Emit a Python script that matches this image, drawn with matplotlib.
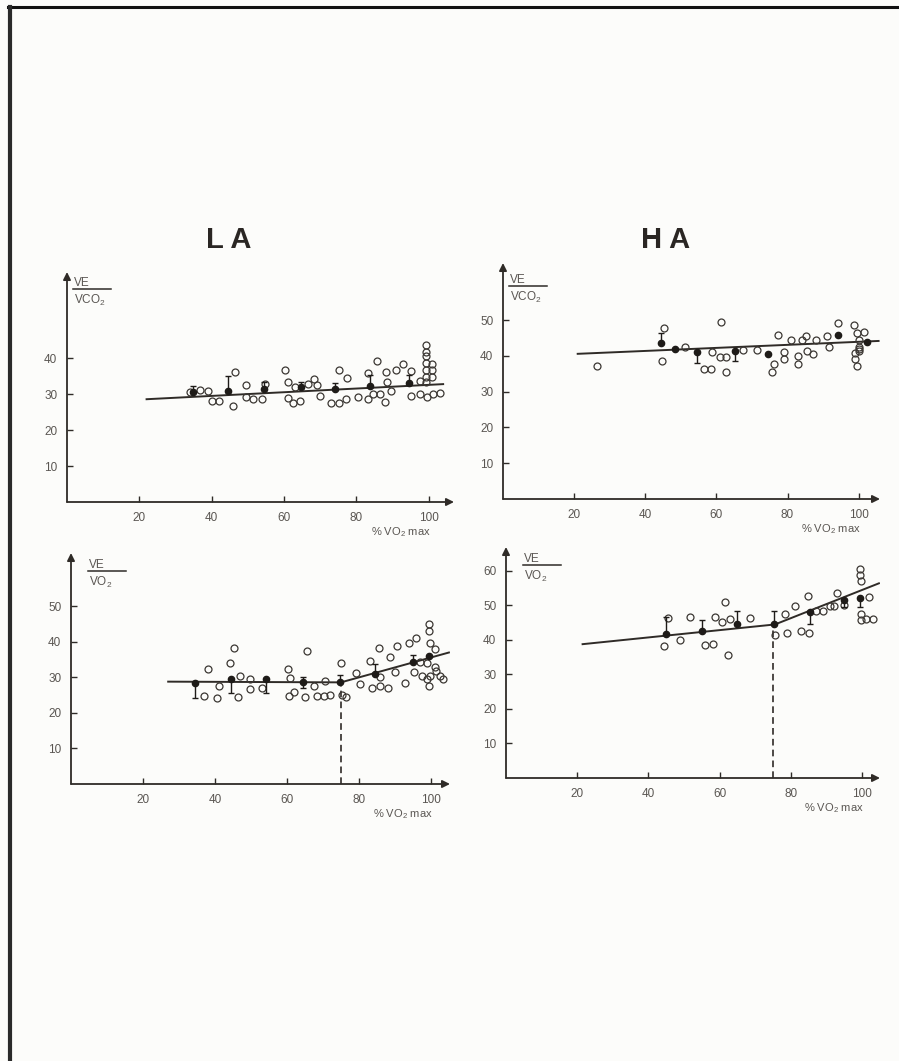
import matplotlib
matplotlib.use('Agg')
import numpy as np
import matplotlib.pyplot as plt
from matplotlib.lines import Line2D

plt.rcParams['font.family'] = ['Liberation Sans', 'DejaVu Sans']
plt.rcParams['mathtext.fontset'] = 'custom'
plt.rcParams['mathtext.rm'] = 'Liberation Sans'
plt.rcParams['mathtext.it'] = 'Liberation Sans'

# ---- data ----
# LA, VE/VCO2
la_co2_x = [34.0, 36.8, 39.1, 40.0, 42.1, 45.8, 46.4, 49.4, 49.4, 51.5, 53.8, 54.7,
            60.4, 61.2, 61.0, 62.5, 64.4, 63.0, 66.7, 68.3, 69.0, 69.9, 73.1, 75.2,
            77.1, 75.2, 77.5, 80.5, 83.3, 83.3, 84.7, 86.5, 87.9, 85.6, 88.1, 88.5,
            90.9, 89.7, 92.9, 95.2, 95.2, 97.5, 97.5, 99.4, 101.2, 103.1,
            99.2, 99.2, 99.2, 99.2, 99.2, 99.2, 99.2, 100.8, 101.0, 101.0]
la_co2_y = [30.5, 31.1, 30.9, 28.1, 28.1, 26.7, 36.1, 32.5, 29.1, 28.6, 28.6, 32.8,
            36.6, 33.3, 28.9, 27.5, 28.1, 31.9, 32.8, 34.2, 32.6, 29.5, 27.5, 27.6,
            28.6, 36.6, 34.5, 29.2, 35.8, 28.6, 30.0, 30.0, 27.9, 39.2, 36.1, 33.3,
            36.6, 30.9, 38.5, 36.4, 29.5, 33.6, 30.0, 29.2, 30.0, 30.2,
            43.7, 41.8, 40.6, 38.7, 36.8, 34.9, 33.3, 38.5, 36.6, 34.7]
la_co2_mx = [34.7, 44.6, 54.4, 64.6, 74.1, 83.9, 94.6]
la_co2_my = [30.5, 30.9, 31.4, 31.9, 31.4, 32.4, 33.0]
la_co2_lo = [0, 0, 0, 0, 0, 0, 0]
la_co2_hi = [1.9, 4.2, 2.0, 1.5, 1.6, 2.8, 2.2]
la_co2_fx = [22, 104]
la_co2_fy = [28.6, 32.8]

# HA, VE/VCO2
ha_co2_x = [26.5, 45.3, 44.6, 51.3, 58.8, 56.5, 58.6, 61.2, 60.9, 62.8, 62.8, 67.4,
            71.4, 77.3, 78.9, 78.9, 76.1, 75.7, 81.1, 82.9, 82.9, 84.0, 85.2, 85.5,
            87.1, 88.1, 91.1, 91.7, 94.2, 98.6, 99.5, 101.4, 100.0, 100.0, 100.0,
            99.0, 99.0, 99.5, 100.2]
ha_co2_y = [37.2, 47.9, 38.6, 42.6, 41.1, 36.3, 36.3, 49.4, 39.8, 39.8, 35.4, 41.7,
            41.7, 45.9, 41.1, 39.1, 37.7, 35.4, 44.4, 40.0, 37.7, 44.4, 45.7, 41.4,
            40.6, 44.6, 45.7, 42.6, 49.3, 48.8, 46.5, 46.7, 44.6, 42.6, 41.4,
            40.9, 39.1, 37.2, 42.0]
ha_co2_mx = [44.3, 48.3, 54.6, 65.2, 74.5, 94.2, 102.3]
ha_co2_my = [43.5, 41.9, 41.1, 41.4, 40.6, 46.0, 43.9]
ha_co2_lo = [0, 0, 3.0, 2.8, 0, 0, 0]
ha_co2_hi = [3.0, 0, 0, 0, 0, 0, 0]
ha_co2_fx = [21, 105.6]
ha_co2_fy = [40.6, 44.2]

# LA, VE/VO2
la_o2_x = [38.1, 36.9, 40.6, 41.0, 45.2, 44.3, 47.0, 46.3, 49.8, 49.8, 53.1,
           60.3, 60.9, 60.5, 61.9, 65.6, 65.1, 67.4, 68.3, 70.2, 72.0, 70.6,
           75.0, 75.3, 76.5, 79.3, 80.4, 83.1, 85.5, 85.8, 83.6, 85.9, 88.2,
           88.5, 90.1, 90.6, 93.8, 95.9, 92.9, 95.3, 97.0, 98.9, 99.8, 97.5,
           99.4, 99.6, 99.8, 101.2, 101.2, 101.5, 99.4, 98.9, 102.6, 103.3]
la_o2_y = [32.5, 24.9, 24.1, 27.7, 38.4, 34.0, 30.3, 24.4, 29.5, 26.7, 26.9,
           32.5, 29.7, 24.9, 25.8, 37.5, 24.4, 27.7, 24.7, 24.9, 25.0, 29.1,
           34.0, 25.0, 24.4, 31.2, 28.1, 34.7, 38.4, 30.0, 26.9, 27.5, 26.9,
           35.6, 31.6, 38.7, 39.6, 41.0, 28.4, 31.4, 34.2, 34.0, 30.5, 30.3,
           45.0, 43.1, 39.8, 37.9, 33.0, 31.9, 27.7, 29.5, 30.3, 29.5]
la_o2_mx = [34.5, 44.5, 54.2, 64.4, 74.8, 84.5, 95.0, 99.4]
la_o2_my = [28.4, 29.5, 29.5, 28.6, 28.6, 30.9, 34.4, 35.9]
la_o2_lo = [4.3, 4.0, 4.0, 1.5, 0, 0, 0, 0]
la_o2_hi = [0, 0, 0, 1.5, 2.0, 3.0, 2.0, 0]
la_o2_fx = [27, 75, 105]
la_o2_fy = [28.8, 28.6, 37.0]
la_thresh = 75

# HA, VE/VO2
ha_o2_x = [45.6, 44.4, 48.9, 51.7, 55.9, 58.1, 58.7, 60.6, 61.6, 63.0, 62.2,
           68.4, 75.6, 78.4, 79.0, 81.0, 82.7, 85.1, 84.9, 86.9, 89.0, 91.1,
           92.2, 92.8, 94.9, 99.4, 99.4, 99.7, 101.9, 99.7, 99.7, 101.2, 103.1]
ha_o2_y = [46.3, 38.1, 40.0, 46.7, 38.4, 38.7, 46.7, 45.1, 50.9, 46.1, 35.5,
           46.3, 41.3, 47.3, 41.9, 49.6, 42.5, 41.9, 52.5, 48.2, 48.2, 49.6,
           49.6, 53.5, 49.9, 60.5, 58.6, 56.9, 52.3, 47.3, 45.6, 46.1, 46.1]
ha_o2_mx = [45.0, 55.1, 64.8, 75.3, 85.3, 95.0, 99.4]
ha_o2_my = [41.5, 42.5, 44.6, 44.4, 48.0, 51.5, 52.1]
ha_o2_lo = [0, 0, 0, 0, 3.4, 2.0, 2.7]
ha_o2_hi = [5.2, 3.3, 3.8, 3.8, 0, 0, 0]
ha_o2_fx = [21.5, 75.5, 104.7]
ha_o2_fy = [38.7, 44.4, 56.3]
ha_thresh = 75

x_ticks = [20, 40, 60, 80, 100]

W, H = 899, 1061
INK = '#2f2b27'
TXT = '#5a5652'


def fig_xy(px, py):
    return px / W, 1 - py / H


def draw_panel(ax, xs, ys, mx, my, lo, hi, fx, fy, yticks, xmax, ymax, thresh=None):
    ax.set_xlim(0, xmax)
    ax.set_ylim(0, ymax)
    ax.patch.set_alpha(0)
    for s in ax.spines.values():
        s.set_visible(False)
    ax.annotate('', xy=(1, 0), xytext=(0, 0), xycoords='axes fraction',
                arrowprops=dict(arrowstyle='-|>', color=INK, lw=1.3,
                                mutation_scale=11, shrinkA=0, shrinkB=0))
    ax.annotate('', xy=(0, 1), xytext=(0, 0), xycoords='axes fraction',
                arrowprops=dict(arrowstyle='-|>', color=INK, lw=1.3,
                                mutation_scale=11, shrinkA=0, shrinkB=0))
    ax.set_xticks(x_ticks)
    ax.set_yticks(yticks)
    ax.tick_params(direction='in', length=4, width=1, color=INK,
                   labelcolor=TXT, labelsize=8.5, pad=7)
    ax.plot(fx, fy, color=INK, lw=1.4, zorder=2)
    if thresh is not None:
        ty = np.interp(thresh, fx, fy)
        ax.plot([thresh, thresh], [0, ty], color=INK, lw=1.2,
                ls=(0, (4, 2.5)), zorder=2)
    ax.plot(xs, ys, 'o', ms=5, mfc='none', mec='#3b3733', mew=0.9, zorder=3)
    ax.errorbar(mx, my, yerr=[lo, hi], fmt='o', ms=4.5, color='#1e1b18',
                ecolor='#1e1b18', elinewidth=1, capsize=2.5, capthick=1, zorder=4)


fig = plt.figure(figsize=(W / 100, H / 100), dpi=100, facecolor='#fcfcfa')

# page edges of the scan
fig.add_artist(Line2D([8 / W, 1], [1 - 7 / H, 1 - 7 / H], transform=fig.transFigure,
                      color='#111', lw=2.2))
fig.add_artist(Line2D([10 / W, 10 / W], [0, 1 - 7 / H], transform=fig.transFigure,
                      color='#2a2a2a', lw=3))

# panel geometry (pixels): origin x, origin y, right end, top end
panels = [
    (67, 502, 454, 272, 107, 64, [10, 20, 30, 40],
     la_co2_x, la_co2_y, la_co2_mx, la_co2_my, la_co2_lo, la_co2_hi, la_co2_fx, la_co2_fy, None,
     'VCO$_2$'),
    (503, 499, 880, 263, 106, 66, [10, 20, 30, 40, 50],
     ha_co2_x, ha_co2_y, ha_co2_mx, ha_co2_my, ha_co2_lo, ha_co2_hi, ha_co2_fx, ha_co2_fy, None,
     'VCO$_2$'),
    (71, 784, 450, 553, 105.3, 65, [10, 20, 30, 40, 50],
     la_o2_x, la_o2_y, la_o2_mx, la_o2_my, la_o2_lo, la_o2_hi, la_o2_fx, la_o2_fy, la_thresh,
     'VO$_2$'),
    (506, 778, 880, 547, 105, 66.8, [10, 20, 30, 40, 50, 60],
     ha_o2_x, ha_o2_y, ha_o2_mx, ha_o2_my, ha_o2_lo, ha_o2_hi, ha_o2_fx, ha_o2_fy, ha_thresh,
     'VO$_2$'),
]

for (ox, oy, rx, ty, xmax, ymax, yt, xs, ys, mx, my, lo, hi, fx, fy, th, den) in panels:
    left, bottom = fig_xy(ox, oy)
    ax = fig.add_axes([left, bottom, (rx - ox) / W, (oy - ty) / H])
    draw_panel(ax, xs, ys, mx, my, lo, hi, fx, fy, yt, xmax, ymax, th)
    # ratio label at the top of the y axis
    lx0 = ox + (6 if den == 'VCO$_2$' else 17)
    fig.text(*fig_xy(lx0 + 1, oy - 219), 'VE', fontsize=8.5, color=TXT,
             ha='left', va='center')
    fig.add_artist(Line2D([lx0 / W, (lx0 + 38) / W], [1 - (oy - 213) / H] * 2,
                          transform=fig.transFigure, color=INK, lw=1.1))
    fig.text(*fig_xy(lx0 + 1, oy - 202), den, fontsize=8.5, color=TXT,
             ha='left', va='center')
    # x axis label
    xr = ox + 100 * (rx - ox) / xmax
    fig.text(*fig_xy(xr + 2, oy + 30), '% VO$_2$ max', fontsize=8, color=TXT,
             ha='right', va='center')

fig.text(*fig_xy(229, 240), 'L A', fontsize=21, fontweight='bold', color='#2a2623',
         ha='center', va='center')
fig.text(*fig_xy(666, 240), 'H A', fontsize=21, fontweight='bold', color='#2a2623',
         ha='center', va='center')

fig.savefig('out.png', dpi=100, facecolor=fig.get_facecolor())
